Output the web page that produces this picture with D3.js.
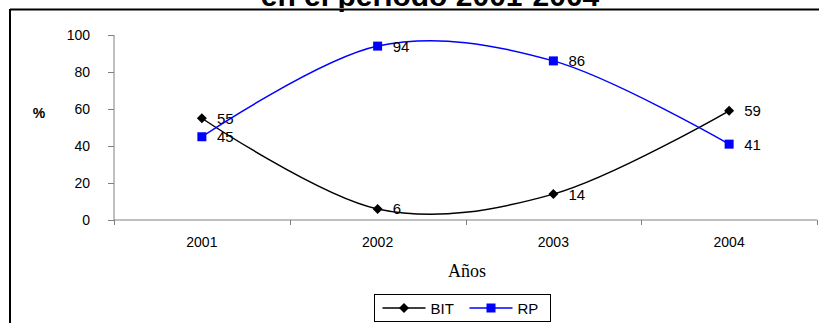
<!DOCTYPE html>
<html>
<head>
<meta charset="utf-8">
<script src="https://cdn.jsdelivr.net/npm/d3@7"></script>
<style>
  html, body { margin: 0; padding: 0; background: #fff; }
  svg { display: block; font-family: "Liberation Sans", Arial, sans-serif; }
</style>
</head>
<body>
<svg id="chart" width="819" height="323"></svg>
<script>
// Data
const years = ["2001", "2002", "2003", "2004"];
const bitValues = [55, 6, 14, 59];
const rpValues = [45, 94, 86, 41];
const yTicks = [0, 20, 40, 60, 80, 100];
const seriesNames = ["BIT", "RP"];
const seriesColors = ["#000000", "#0000ff"];

const svg = d3.select("#chart");

// Title (second line; the chart's top edge cuts through it)
svg.append("text").attr("x", 430).attr("y", 6).attr("text-anchor", "middle")
  .attr("font-weight", "bold").attr("font-size", 30)
  .text("en el período 2001-2004");

// Frame
svg.append("rect").attr("x", 11).attr("y", 8).attr("width", 808).attr("height", 2).attr("fill", "#fff");
svg.append("line").attr("x1", 10).attr("x2", 819).attr("y1", 9.5).attr("y2", 9.5)
  .attr("stroke", "#000").attr("stroke-width", 2);
svg.append("line").attr("x1", 10).attr("x2", 10).attr("y1", 9).attr("y2", 323)
  .attr("stroke", "#000").attr("stroke-width", 2);

const plot = { left: 114, right: 817, top: 35, bottom: 220 };

const x = d3.scaleBand().domain(years).range([plot.left, plot.right]);
const y = d3.scaleLinear().domain([0, 100]).range([plot.bottom, plot.top]);

// Y axis
const yAxis = svg.append("g").attr("transform", `translate(${plot.left},0)`)
  .call(d3.axisLeft(y).tickValues(yTicks).tickSize(6).tickPadding(18));
yAxis.select(".domain").attr("stroke", "#808080").attr("d", `M0,${plot.top}V${plot.bottom}`);
yAxis.selectAll(".tick line").attr("stroke", "#808080");
yAxis.selectAll(".tick text").attr("font-size", 14).attr("fill", "#000")
  .attr("font-family", "Liberation Sans, Arial, sans-serif");

// X axis with tick marks on category boundaries
const xAxis = svg.append("g").attr("transform", `translate(0,${plot.bottom})`);
xAxis.append("line").attr("x1", plot.left).attr("x2", plot.right)
  .attr("stroke", "#808080");
const bounds = years.map(d => x(d)).concat([plot.right]);
xAxis.selectAll("line.tk").data(bounds).join("line").attr("class", "tk")
  .attr("x1", d => Math.round(d) + 0.5).attr("x2", d => Math.round(d) + 0.5)
  .attr("y1", 0).attr("y2", 5).attr("stroke", "#808080");
xAxis.selectAll("text").data(years).join("text")
  .attr("x", d => x(d) + x.bandwidth() / 2).attr("y", 27)
  .attr("text-anchor", "middle").attr("font-size", 14).text(d => d);

// Axis titles
svg.append("text").attr("x", 39).attr("y", 118).attr("text-anchor", "middle")
  .attr("font-weight", "bold").attr("font-size", 14).text("%");
svg.append("text").attr("x", 467).attr("y", 277).attr("text-anchor", "middle")
  .attr("font-family", "Liberation Serif, Times New Roman, serif").attr("font-size", 18)
  .text("Años");

// Series
const cx = d => x(d) + x.bandwidth() / 2;
const line = d3.line().x(d => cx(d.year)).y(d => y(d.value))
  .curve(d3.curveCatmullRom.alpha(0));

const series = [
  { name: seriesNames[0], color: seriesColors[0], values: bitValues, marker: "diamond" },
  { name: seriesNames[1], color: seriesColors[1], values: rpValues, marker: "square" }
];

function drawMarker(g, type, color) {
  if (type === "diamond") {
    g.append("path").attr("d", "M0,-5L5,0L0,5L-5,0Z").attr("fill", color);
  } else {
    g.append("rect").attr("x", -4.5).attr("y", -4.5).attr("width", 9).attr("height", 9)
      .attr("fill", color);
  }
}

series.forEach(s => {
  const pts = years.map((yr, i) => ({ year: yr, value: s.values[i] }));
  svg.append("path").datum(pts).attr("d", line).attr("fill", "none")
    .attr("stroke", s.color).attr("stroke-width", 1.5);
  pts.forEach(p => {
    const g = svg.append("g").attr("transform", `translate(${cx(p.year)},${y(p.value)})`);
    drawMarker(g, s.marker, s.color);
    svg.append("text").attr("x", cx(p.year) + 15).attr("y", y(p.value) + 5.5)
      .attr("font-size", 15).text(p.value);
  });
});

// Legend
const legend = svg.append("g").attr("transform", "translate(374.5,294.5)");
legend.append("rect").attr("width", 176).attr("height", 27)
  .attr("fill", "#fff").attr("stroke", "#000");
series.forEach((s, i) => {
  const ox = 8 + i * 87;
  legend.append("line").attr("x1", ox).attr("x2", ox + 43).attr("y1", 13.5).attr("y2", 13.5)
    .attr("stroke", s.color).attr("stroke-width", 1.5);
  const g = legend.append("g").attr("transform", `translate(${ox + 21.5},13.5)`);
  drawMarker(g, s.marker, s.color);
  legend.append("text").attr("x", ox + 48).attr("y", 19).attr("font-size", 15).text(s.name);
});
</script>
</body>
</html>
